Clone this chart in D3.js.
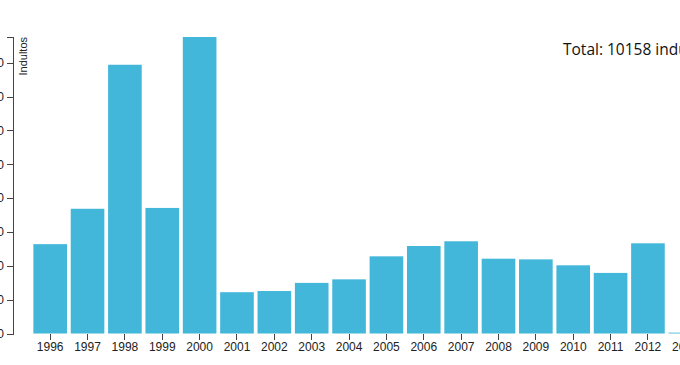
<!DOCTYPE html>
<html>
<head>
<meta charset="utf-8">
<script src="https://cdn.jsdelivr.net/npm/d3@7/dist/d3.min.js"></script>
<style>
  html, body { margin: 0; padding: 0; background: #fff; overflow: hidden; }
  svg { display: block; font-family: "Open Sans", sans-serif; }
  .axis path, .axis line { fill: none; stroke: #444; shape-rendering: crispEdges; }
  .axis text { fill: #222; font-size: 12px; }
  .x.axis path { display: none; }
</style>
</head>
<body>
<script>
const years = ["1996","1997","1998","1999","2000","2001","2002","2003","2004","2005","2006","2007","2008","2009","2010","2011","2012","2013"];
const indultos = [528, 737, 1588, 742, 1752, 244, 251, 299, 320, 456, 517, 545, 442, 438, 403, 358, 533, 5];
const yTicks = [0, 200, 400, 600, 800, 1000, 1200, 1400, 1600];
const totalLabel = "Total: 10158 indultos";
const yLabel = "Indultos";

const W = 680, H = 365;
const margin = { top: 37, left: 13 };
const plotH = 296.5;

const svg = d3.select("body").append("svg").attr("width", W).attr("height", H);
const g = svg.append("g").attr("transform", `translate(${margin.left},${margin.top})`);

const x = d3.scaleBand().domain(years).range([18.5, 18.5 + 18 * 37.36]).paddingInner(0.1).paddingOuter(0.05);
const y = d3.scaleLinear().domain([0, d3.max(indultos)]).range([plotH, 0]);

g.selectAll("rect.bar").data(years).enter().append("rect")
  .attr("class", "bar")
  .attr("x", d => x(d))
  .attr("width", x.bandwidth())
  .attr("y", (d, i) => y(indultos[i]))
  .attr("height", (d, i) => plotH - y(indultos[i]))
  .attr("fill", "#42b7da");

g.append("g").attr("class", "x axis")
  .attr("transform", `translate(0,${plotH})`)
  .call(d3.axisBottom(x).tickSize(6).tickSizeOuter(0))
  .call(s => s.selectAll("text").attr("y", 9));

const ya = g.append("g").attr("class", "y axis")
  .call(d3.axisLeft(y).tickValues(yTicks).tickSize(6));

ya.append("text")
  .attr("transform", "rotate(-90)")
  .attr("y", 6)
  .attr("dy", ".71em")
  .style("text-anchor", "end")
  .style("font-size", "11px")
  .attr("fill", "#222")
  .text(yLabel);

svg.append("text")
  .attr("x", 563)
  .attr("y", 55)
  .style("font-size", "15.5px")
  .attr("fill", "#111")
  .text(totalLabel);
</script>
</body>
</html>
